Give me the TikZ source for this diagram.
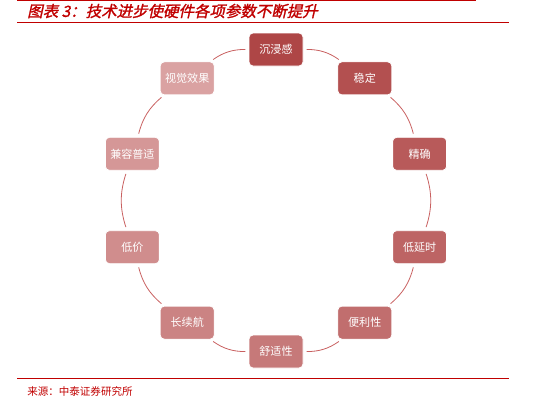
\documentclass[tikz,border=0pt]{standalone}
\usepackage{fontspec}
\setmainfont{Noto Sans CJK SC}
\newfontfamily\titlefont[FakeSlant=0.22,FakeBold=1.5]{Noto Sans CJK SC}
\usepackage{xcolor}
\usepackage{tikz}
\usetikzlibrary{calc}
\definecolor{TitleRed}{RGB}{192,0,0}
\definecolor{RingDark}{RGB}{174,70,70}
\definecolor{RingLight}{RGB}{218,162,162}
\definecolor{ArcRed}{RGB}{200,95,95}
\tikzset{
  ringbox/.style={rounded corners=3pt, minimum width=40.5pt, minimum height=24.75pt, inner sep=0pt,
    font=\fontsize{8.3}{9}\selectfont, text=white, draw=white, line width=0.6pt},
  ringarc/.style={ArcRed, line width=0.6pt, shorten <=2.5pt, shorten >=2.5pt},
  rulered/.style={TitleRed, line width=1.4pt},
  titletxt/.style={anchor=west, inner sep=0pt, text=TitleRed, font=\titlefont\fontsize{11.6}{12}\selectfont},
  srctxt/.style={anchor=west, inner sep=0pt, text=TitleRed, font=\fontsize{7.9}{9}\selectfont},
}

\begin{document}
\begin{tikzpicture}[x=0.75pt, y=-0.75pt]
  \useasboundingbox (0,0) rectangle (547,401);
  % header and footer rules
  \coordinate (topL) at (17,0.8);   \coordinate (topR) at (476,0.8);
  \coordinate (midL) at (17,22.5);  \coordinate (midR) at (509,22.5);
  \coordinate (botL) at (17,378.5); \coordinate (botR) at (509,378.5);
  \draw[rulered, line width=1pt] (topL) -- (topR);
  \draw[rulered] (midL) -- (midR);
  \draw[rulered, line width=1.1pt] (botL) -- (botR);
  \node[titletxt] (title) at (27,11) {图表 3：技术进步使硬件各项参数不断提升};
  \node[srctxt] (source) at (27,391) {来源：中泰证券研究所};
  % ring of parameters
  \coordinate (ctr) at (276,200.5);
  \foreach \lab [count=\k from 0, evaluate=\k as \p using {int(\k*100/9)}, evaluate=\k as \a using {36*\k}]
      in {沉浸感,稳定,精确,低延时,便利性,舒适性,长续航,低价,兼容普适,视觉效果}
    \node[ringbox, fill=RingLight!\p!RingDark] (ring\k) at ({276+151*sin(\a)},{200.5-151*cos(\a)}) {\lab};
  \foreach \i [evaluate=\i as \j using {int(mod(\i+1,10))}] in {0,...,9}
    \draw[ringarc] (ring\i) to[bend left=18] (ring\j);
\end{tikzpicture}
\end{document}
